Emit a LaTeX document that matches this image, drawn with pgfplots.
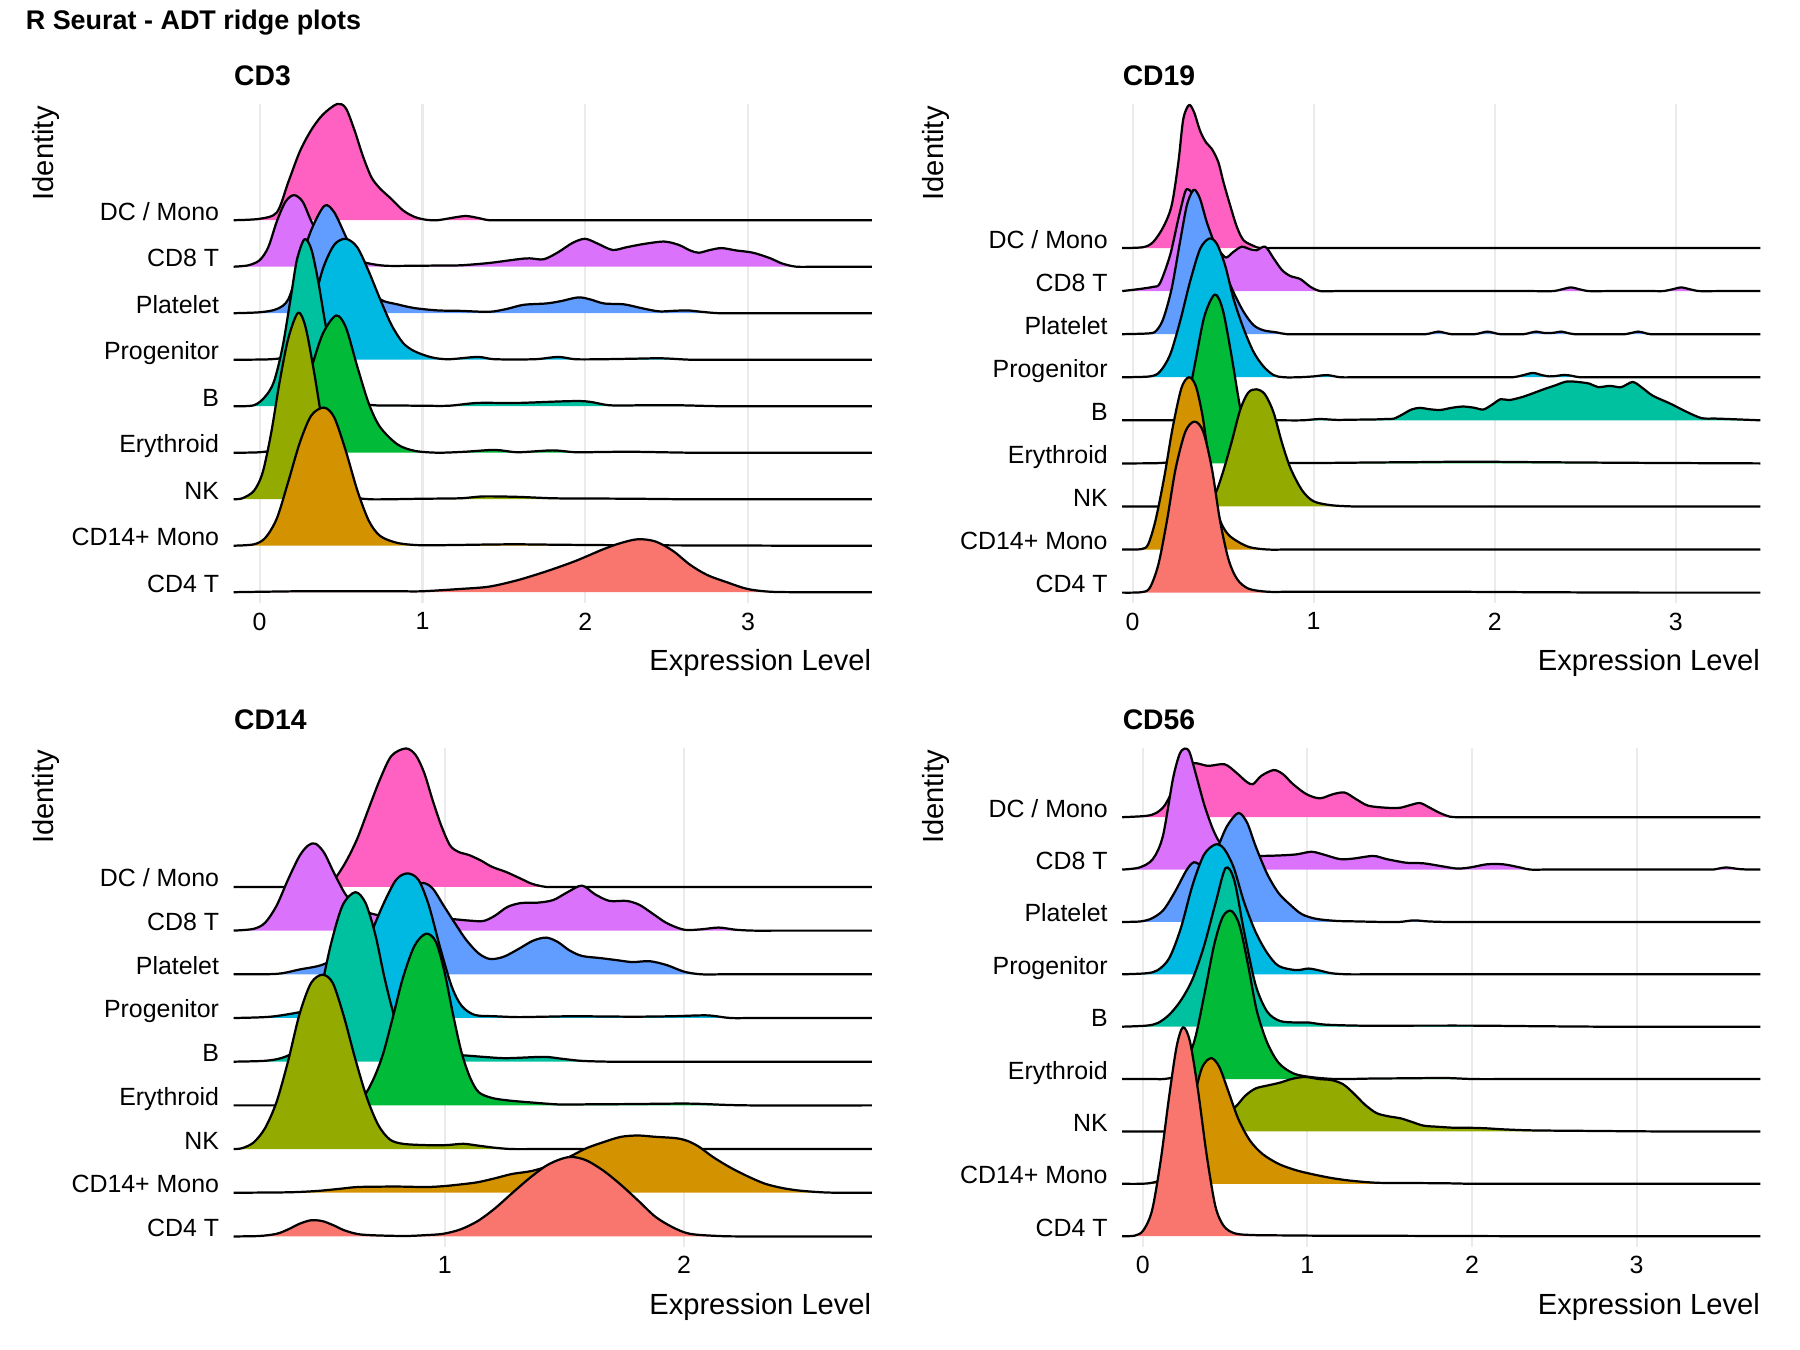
\documentclass[border=0pt]{standalone}
\usepackage{fontspec}
\setmainfont{Liberation Sans}
\usepackage{pgfplots}
\pgfplotsset{compat=1.18}
\definecolor{c1}{HTML}{F8766D}
\definecolor{c2}{HTML}{D39200}
\definecolor{c3}{HTML}{93AA00}
\definecolor{c4}{HTML}{00BA38}
\definecolor{c5}{HTML}{00C19F}
\definecolor{c6}{HTML}{00B9E3}
\definecolor{c7}{HTML}{619CFF}
\definecolor{c8}{HTML}{DB72FB}
\definecolor{c9}{HTML}{FF61C3}
\definecolor{gridgray}{HTML}{EBEBEB}
\newcommand\ticksize{\fontsize{8.97}{10}\selectfont}
\newcommand\titlesize{\fontsize{10.49}{12}\selectfont}
\newcommand\panelsize{\fontsize{10.19}{12}\selectfont\bfseries}
\pgfplotsset{
  ridgepanel/.style={
    scale only axis, width=229.74pt, height=179.67pt, anchor=south west, clip=false,
    axis line style={draw=none}, major tick length=0pt, tick style={draw=none},
    xmajorgrids, major grid style={draw=gridgray, line width=0.75pt},
    ytick={1,2,3,4,5,6,7,8,9},
    yticklabels={CD4 T,CD14+ Mono,NK,Erythroid,B,Progenitor,Platelet,CD8 T,DC / Mono},
    yticklabel style={anchor=base east, inner sep=0pt, xshift=-5.05pt, font=\ticksize, text=black},
    xticklabel style={anchor=north, inner sep=0pt, yshift=-3.27pt, font=\ticksize, text=black},
    /pgf/number format/assume math mode=true,
  },
  ridge/.style={draw=black, line width=0.8pt, line join=round, smooth, tension=0.5, fill=#1},
  lvl/.style={y filter/.expression={y+#1}},
}
\begin{document}
\begin{tikzpicture}
\path (0,0) rectangle (648pt,486pt);
\node[anchor=base west, inner sep=0pt, font=\fontsize{9.7}{12}\selectfont\bfseries] at (9.1pt,475.2pt) {R Seurat - ADT ridge plots};
\node[rotate=90, anchor=east, inner sep=0pt, font=\titlesize] at (16.5pt,447.9pt) {Identity};
\node[rotate=90, anchor=east, inner sep=0pt, font=\titlesize] at (337.0pt,447.9pt) {Identity};
\node[rotate=90, anchor=east, inner sep=0pt, font=\titlesize] at (16.5pt,216.2pt) {Identity};
\node[rotate=90, anchor=east, inner sep=0pt, font=\titlesize] at (337.0pt,216.2pt) {Identity};

% ---------------- CD3 ----------------
\begin{axis}[ridgepanel, at={(84.1pt,268.9pt)}, xmin=-0.16, xmax=3.76, ymin=0.767, ymax=11.5, xtick={0,1,2,3}]
\addplot[ridge=c9, lvl=9] coordinates {(-0.16,0) (0,0.03) (0.106,0.17) (0.176,0.82) (0.247,1.48) (0.317,1.94) (0.388,2.27) (0.476,2.50) (0.529,2.41) (0.582,1.94) (0.634,1.38) (0.687,0.92) (0.74,0.68) (0.811,0.45) (0.881,0.21) (0.952,0.07) (1.022,0.01) (1.093,0) (1.198,0.06) (1.269,0.09) (1.339,0.05) (1.41,0) (1.52,0) (1.7,0) (2.0,0) (2.5,0) (3.1,0) (3.76,0)};
\addplot[ridge=c8, lvl=8] coordinates {(-0.16,0) (-0.07,0.03) (0,0.14) (0.053,0.42) (0.106,0.98) (0.159,1.40) (0.211,1.54) (0.264,1.40) (0.317,0.98) (0.388,0.51) (0.493,0.23) (0.599,0.14) (0.67,0.07) (0.775,0.02) (0.95,0.02) (1.1,0.025) (1.234,0.03) (1.41,0.08) (1.586,0.16) (1.657,0.18) (1.745,0.16) (1.833,0.31) (1.921,0.51) (1.999,0.60) (2.08,0.49) (2.168,0.36) (2.256,0.42) (2.362,0.49) (2.485,0.54) (2.573,0.47) (2.644,0.35) (2.697,0.30) (2.767,0.36) (2.838,0.40) (2.926,0.35) (3.031,0.30) (3.137,0.18) (3.208,0.07) (3.296,0) (3.42,0) (3.58,0) (3.76,0)};
\addplot[ridge=c7, lvl=7] coordinates {(-0.16,0) (0,0.02) (0.106,0.09) (0.176,0.30) (0.247,1.05) (0.317,1.79) (0.398,2.31) (0.458,2.17) (0.529,1.65) (0.599,1.14) (0.67,0.67) (0.74,0.30) (0.846,0.19) (0.952,0.11) (1.093,0.06) (1.234,0.05) (1.41,0.03) (1.516,0.09) (1.621,0.18) (1.762,0.21) (1.851,0.26) (1.956,0.34) (2.027,0.30) (2.115,0.21) (2.238,0.19) (2.344,0.11) (2.45,0.04) (2.538,0.05) (2.626,0.06) (2.714,0.03) (2.82,0) (2.97,0) (3.2,0) (3.45,0) (3.76,0)};
\addplot[ridge=c6, lvl=6] coordinates {(-0.16,0) (0.07,0.01) (0.176,0.08) (0.247,0.36) (0.317,1.02) (0.388,1.95) (0.458,2.47) (0.529,2.60) (0.599,2.42) (0.67,1.90) (0.74,1.30) (0.811,0.74) (0.881,0.36) (0.952,0.18) (1.057,0.05) (1.163,0.01) (1.339,0.06) (1.445,0.01) (1.69,0.01) (1.833,0.06) (1.939,0.01) (2.1,0.01) (2.28,0.02) (2.467,0.03) (2.644,0) (2.82,0) (3.05,0) (3.35,0) (3.76,0)};
\addplot[ridge=c5, lvl=5] coordinates {(-0.16,0) (-0.035,0.02) (0.035,0.21) (0.088,0.53) (0.141,1.28) (0.194,2.40) (0.229,3.15) (0.275,3.59) (0.317,3.38) (0.36,2.68) (0.405,1.75) (0.458,0.91) (0.529,0.30) (0.599,0.08) (0.705,0.02) (0.85,0.015) (1.0,0.01) (1.163,0.01) (1.339,0.07) (1.586,0.07) (1.974,0.11) (2.15,0.02) (2.36,0.02) (2.573,0.02) (2.82,0) (3.05,0) (3.35,0) (3.76,0)};
\addplot[ridge=c4, lvl=4] coordinates {(-0.16,0) (0,0.01) (0.106,0.08) (0.176,0.32) (0.247,0.97) (0.317,1.81) (0.388,2.56) (0.469,2.95) (0.529,2.70) (0.599,1.86) (0.67,1.06) (0.74,0.55) (0.846,0.18) (0.952,0.04) (1.093,0) (1.26,0.02) (1.445,0.06) (1.586,0.01) (1.798,0.05) (1.939,0.01) (2.1,0.015) (2.291,0.02) (2.644,0) (2.95,0) (3.3,0) (3.76,0)};
\addplot[ridge=c3, lvl=3] coordinates {(-0.16,0) (-0.106,0.02) (-0.035,0.18) (0.018,0.57) (0.07,1.41) (0.123,2.53) (0.176,3.46) (0.236,4.01) (0.282,3.70) (0.335,2.72) (0.388,1.59) (0.441,0.76) (0.493,0.29) (0.564,0.06) (0.67,0) (0.82,0) (1.0,0.01) (1.234,0.02) (1.375,0.06) (1.586,0.05) (1.798,0.02) (2.0,0.015) (2.291,0.01) (2.6,0) (3.1,0) (3.76,0)};
\addplot[ridge=c2, lvl=2] coordinates {(-0.16,0) (-0.035,0.03) (0.035,0.17) (0.106,0.59) (0.176,1.38) (0.247,2.22) (0.317,2.80) (0.395,2.97) (0.458,2.76) (0.529,2.04) (0.599,1.20) (0.67,0.54) (0.74,0.21) (0.846,0.06) (0.987,0.01) (1.2,0.015) (1.4,0.025) (1.586,0.03) (1.85,0.02) (2.25,0.01) (2.8,0.005) (3.3,0) (3.76,0)};
\addplot[ridge=c1, lvl=1] coordinates {(-0.16,0) (0.247,0.02) (0.6,0.02) (0.85,0.02) (0.998,0.02) (1.234,0.07) (1.41,0.12) (1.586,0.26) (1.762,0.45) (1.939,0.67) (2.115,0.93) (2.221,1.06) (2.326,1.14) (2.432,1.09) (2.538,0.89) (2.644,0.59) (2.749,0.37) (2.873,0.21) (2.996,0.07) (3.137,0.01) (3.349,0) (3.76,0)};
\node[anchor=base west, inner sep=0pt, font=\panelsize, yshift=6.63pt] at (rel axis cs:0,1) {CD3};
\node[anchor=base east, inner sep=0pt, font=\titlesize, yshift=-24.4pt] at (rel axis cs:1,0) {Expression Level};
\end{axis}

% ---------------- CD19 ----------------
\begin{axis}[ridgepanel, at={(404.0pt,268.9pt)}, xmin=-0.057, xmax=3.467, ymin=0.758, ymax=12.345, xtick={0,1,2,3}]
\addplot[ridge=c9, lvl=9] coordinates {(-0.057,0) (0.059,0.02) (0.114,0.14) (0.17,0.49) (0.216,0.99) (0.253,1.99) (0.28,2.99) (0.312,3.32) (0.34,3.15) (0.373,2.72) (0.406,2.45) (0.438,2.30) (0.474,1.99) (0.502,1.53) (0.539,0.99) (0.576,0.49) (0.613,0.18) (0.668,0.05) (0.705,0) (0.8,0) (0.95,0) (1.2,0) (1.6,0) (2.2,0) (2.8,0) (3.467,0)};
\addplot[ridge=c8, lvl=8] coordinates {(-0.057,0) (0.041,0.05) (0.114,0.10) (0.151,0.18) (0.207,0.83) (0.253,1.68) (0.29,2.30) (0.308,2.36) (0.33,2.25) (0.37,1.75) (0.42,1.2) (0.483,0.91) (0.517,0.78) (0.557,0.91) (0.603,1.03) (0.65,0.97) (0.686,0.95) (0.733,1.03) (0.779,0.76) (0.825,0.49) (0.871,0.35) (0.926,0.28) (0.982,0.10) (1.037,0) (1.12,0) (1.25,0) (1.5,0) (1.8,0) (2.05,0) (2.2,0) (2.32,0) (2.37,0.04) (2.42,0.085) (2.47,0.04) (2.52,0) (2.62,0) (2.75,0) (2.88,0) (2.93,0) (2.98,0.04) (3.03,0.085) (3.08,0.04) (3.13,0) (3.23,0) (3.35,0) (3.467,0)};
\addplot[ridge=c7, lvl=7] coordinates {(-0.057,0) (0.096,0.02) (0.133,0.09) (0.17,0.36) (0.216,1.06) (0.262,2.14) (0.299,2.98) (0.327,3.29) (0.345,3.35) (0.373,3.14) (0.41,2.60) (0.456,2.06) (0.502,1.52) (0.557,0.98) (0.613,0.52) (0.668,0.21) (0.723,0.09) (0.797,0.04) (0.852,0) (0.95,0) (1.12,0) (1.3,0) (1.45,0) (1.56,0) (1.62,0) (1.655,0.03) (1.69,0.06) (1.725,0.03) (1.76,0) (1.82,0) (1.89,0) (1.925,0.03) (1.96,0.06) (1.995,0.03) (2.03,0) (2.1,0) (2.16,0) (2.195,0.03) (2.228,0.06) (2.27,0.03) (2.3,0.025) (2.33,0.035) (2.367,0.06) (2.40,0.03) (2.44,0) (2.52,0) (2.62,0) (2.69,0) (2.72,0) (2.757,0.03) (2.792,0.06) (2.827,0.03) (2.86,0) (2.95,0) (3.1,0) (3.3,0) (3.467,0)};
\addplot[ridge=c6, lvl=6] coordinates {(-0.057,0) (0.096,0.02) (0.151,0.13) (0.207,0.52) (0.262,1.29) (0.317,2.21) (0.373,2.98) (0.424,3.22) (0.465,3.10) (0.511,2.60) (0.557,1.83) (0.613,1.13) (0.668,0.59) (0.723,0.25) (0.779,0.05) (0.834,0) (0.92,0) (1.0,0.02) (1.074,0.05) (1.148,0) (1.25,0) (1.45,0) (1.7,0) (1.9,0) (2.03,0) (2.1,0) (2.15,0.04) (2.21,0.10) (2.26,0.05) (2.3,0.02) (2.34,0.03) (2.385,0.055) (2.43,0.03) (2.47,0) (2.56,0) (2.75,0) (3.05,0) (3.467,0)};
\addplot[ridge=c5, lvl=5] coordinates {(-0.057,0) (0.3,0) (0.6,0) (0.8,0) (0.937,0) (1.032,0.03) (1.127,0.01) (1.22,0.015) (1.33,0.02) (1.4,0.03) (1.444,0.04) (1.492,0.14) (1.54,0.25) (1.587,0.29) (1.635,0.26) (1.698,0.24) (1.762,0.29) (1.825,0.32) (1.889,0.29) (1.937,0.25) (1.984,0.36) (2.032,0.49) (2.079,0.47) (2.143,0.53) (2.206,0.62) (2.27,0.72) (2.333,0.81) (2.397,0.90) (2.46,0.89) (2.524,0.85) (2.571,0.77) (2.635,0.80) (2.698,0.77) (2.762,0.89) (2.816,0.75) (2.873,0.57) (2.968,0.39) (3.063,0.19) (3.143,0.05) (3.222,0.04) (3.349,0.02) (3.467,0)};
\addplot[ridge=c4, lvl=4] coordinates {(-0.057,0) (0.159,0.01) (0.206,0.09) (0.254,0.59) (0.302,1.40) (0.349,2.41) (0.397,3.42) (0.454,3.92) (0.498,3.57) (0.546,2.51) (0.594,1.30) (0.641,0.49) (0.698,0.14) (0.778,0.02) (0.88,0.01) (1.05,0.01) (1.3,0.02) (1.6,0.03) (1.857,0.04) (2.175,0.03) (2.5,0.02) (2.9,0.01) (3.467,0)};
\addplot[ridge=c3, lvl=3] coordinates {(-0.057,0) (0.15,0) (0.28,0) (0.35,0) (0.397,0.01) (0.454,0.27) (0.498,0.78) (0.546,1.48) (0.594,2.24) (0.638,2.64) (0.683,2.72) (0.73,2.61) (0.778,2.19) (0.825,1.48) (0.873,0.88) (0.937,0.37) (1.0,0.12) (1.095,0.03) (1.222,0) (1.37,0) (1.6,0) (2.0,0) (2.6,0) (3.467,0)};
\addplot[ridge=c2, lvl=2] coordinates {(-0.057,0) (0.048,0.01) (0.086,0.12) (0.127,0.68) (0.175,1.68) (0.222,2.84) (0.27,3.75) (0.311,4.0) (0.349,3.80) (0.387,3.09) (0.429,1.88) (0.476,0.78) (0.524,0.37) (0.587,0.17) (0.651,0.05) (0.746,0) (0.86,0) (1.05,0) (1.35,0) (1.8,0) (2.5,0) (3.467,0)};
\addplot[ridge=c1, lvl=1] coordinates {(-0.057,0) (0.048,0.01) (0.095,0.11) (0.143,0.66) (0.19,1.67) (0.238,2.88) (0.292,3.74) (0.343,3.97) (0.39,3.74) (0.438,2.88) (0.483,1.67) (0.53,0.77) (0.578,0.31) (0.641,0.09) (0.746,0.02) (0.87,0.02) (1.05,0.02) (1.35,0.02) (1.73,0.02) (2.2,0.01) (2.8,0) (3.467,0)};
\node[anchor=base west, inner sep=0pt, font=\panelsize, yshift=6.63pt] at (rel axis cs:0,1) {CD19};
\node[anchor=base east, inner sep=0pt, font=\titlesize, yshift=-24.4pt] at (rel axis cs:1,0) {Expression Level};
\end{axis}

% ---------------- CD14 ----------------
\begin{axis}[ridgepanel, at={(84.1pt,37.2pt)}, xmin=0.1175, xmax=2.784, ymin=0.766, ymax=12.19, xtick={1,2}]
\addplot[ridge=c9, lvl=9] coordinates {(0.1175,0) (0.25,0) (0.35,0) (0.41,0) (0.441,0) (0.489,0.02) (0.537,0.17) (0.585,0.56) (0.633,1.09) (0.681,1.78) (0.729,2.46) (0.777,3.00) (0.837,3.17) (0.878,3.02) (0.914,2.61) (0.95,1.97) (0.986,1.39) (1.022,0.95) (1.058,0.80) (1.101,0.73) (1.149,0.61) (1.197,0.46) (1.257,0.34) (1.317,0.19) (1.365,0.07) (1.424,0) (1.5,0) (1.65,0) (1.9,0) (2.3,0) (2.784,0)};
\addplot[ridge=c8, lvl=8] coordinates {(0.1175,0) (0.201,0.04) (0.249,0.18) (0.297,0.57) (0.345,1.17) (0.393,1.71) (0.429,1.95) (0.46,1.99) (0.496,1.78) (0.537,1.32) (0.585,0.83) (0.633,0.54) (0.693,0.39) (0.777,0.31) (0.873,0.34) (0.969,0.29) (1.041,0.26) (1.101,0.23) (1.161,0.22) (1.209,0.34) (1.261,0.54) (1.317,0.63) (1.388,0.64) (1.453,0.70) (1.513,0.88) (1.573,1.03) (1.628,0.83) (1.688,0.68) (1.76,0.68) (1.813,0.59) (1.868,0.39) (1.928,0.17) (2.0,0.02) (2.072,0.03) (2.144,0.07) (2.216,0.02) (2.288,0) (2.4,0) (2.57,0) (2.784,0)};
\addplot[ridge=c7, lvl=7] coordinates {(0.1175,0) (0.297,0.01) (0.393,0.11) (0.489,0.22) (0.585,0.50) (0.681,0.99) (0.777,1.57) (0.849,1.96) (0.909,2.09) (0.95,1.96) (0.993,1.59) (1.041,1.18) (1.089,0.79) (1.141,0.48) (1.189,0.35) (1.245,0.40) (1.305,0.57) (1.369,0.77) (1.424,0.84) (1.472,0.74) (1.52,0.55) (1.573,0.42) (1.652,0.37) (1.724,0.32) (1.784,0.28) (1.856,0.30) (1.928,0.21) (2.0,0.06) (2.072,0) (2.17,0) (2.33,0) (2.55,0) (2.784,0)};
\addplot[ridge=c6, lvl=6] coordinates {(0.1175,0) (0.273,0.03) (0.417,0.16) (0.513,0.33) (0.609,0.92) (0.681,1.80) (0.741,2.58) (0.796,3.16) (0.844,3.31) (0.89,3.16) (0.933,2.58) (0.981,1.60) (1.029,0.72) (1.07,0.28) (1.125,0.07) (1.209,0.04) (1.305,0.02) (1.42,0.03) (1.544,0.04) (1.784,0.03) (1.95,0.04) (2.096,0.06) (2.192,0) (2.3,0) (2.5,0) (2.784,0)};
\addplot[ridge=c5, lvl=5] coordinates {(0.1175,0) (0.249,0.02) (0.321,0.09) (0.381,0.26) (0.429,0.65) (0.477,1.53) (0.525,2.71) (0.573,3.58) (0.626,3.88) (0.669,3.63) (0.71,2.90) (0.748,1.92) (0.789,1.04) (0.837,0.41) (0.885,0.21) (0.969,0.17) (1.065,0.15) (1.161,0.11) (1.257,0.08) (1.412,0.11) (1.484,0.07) (1.568,0.02) (1.688,0) (1.85,0) (2.1,0) (2.45,0) (2.784,0)};
\addplot[ridge=c4, lvl=4] coordinates {(0.1175,0) (0.3,0) (0.45,0) (0.53,0) (0.585,0.01) (0.657,0.19) (0.7,0.58) (0.741,1.16) (0.784,2.04) (0.825,2.92) (0.873,3.65) (0.921,3.93) (0.962,3.75) (0.998,3.07) (1.034,2.09) (1.07,1.21) (1.106,0.63) (1.142,0.30) (1.197,0.17) (1.269,0.11) (1.376,0.06) (1.484,0.02) (1.62,0.025) (1.784,0.03) (2.024,0.04) (2.264,0) (2.784,0)};
\addplot[ridge=c3, lvl=3] coordinates {(0.1175,0) (0.153,0.02) (0.201,0.15) (0.249,0.48) (0.297,1.08) (0.345,2.01) (0.393,3.09) (0.441,3.80) (0.489,3.99) (0.532,3.80) (0.578,3.04) (0.626,2.06) (0.674,1.18) (0.722,0.55) (0.77,0.22) (0.825,0.12) (0.921,0.09) (1.005,0.09) (1.077,0.12) (1.137,0.08) (1.209,0.03) (1.281,0) (1.4,0) (1.6,0) (1.9,0) (2.3,0) (2.784,0)};
\addplot[ridge=c2, lvl=2] coordinates {(0.1175,0) (0.345,0.01) (0.465,0.04) (0.561,0.09) (0.633,0.13) (0.741,0.14) (0.825,0.14) (0.921,0.13) (0.993,0.15) (1.065,0.19) (1.137,0.24) (1.209,0.33) (1.281,0.43) (1.365,0.50) (1.448,0.64) (1.52,0.82) (1.592,1.02) (1.664,1.16) (1.736,1.28) (1.808,1.31) (1.88,1.28) (1.964,1.25) (2.012,1.19) (2.06,1.06) (2.12,0.82) (2.192,0.58) (2.264,0.38) (2.336,0.21) (2.408,0.11) (2.48,0.05) (2.576,0.01) (2.648,0) (2.784,0)};
\addplot[ridge=c1, lvl=1] coordinates {(0.1175,0) (0.225,0.01) (0.297,0.06) (0.345,0.16) (0.393,0.29) (0.441,0.37) (0.489,0.35) (0.537,0.25) (0.585,0.13) (0.657,0.04) (0.825,0.01) (0.921,0.03) (0.993,0.06) (1.065,0.16) (1.137,0.35) (1.209,0.64) (1.281,0.99) (1.353,1.33) (1.424,1.62) (1.484,1.77) (1.532,1.82) (1.592,1.74) (1.664,1.50) (1.736,1.18) (1.808,0.82) (1.88,0.45) (1.952,0.21) (2.024,0.06) (2.144,0.01) (2.264,0) (2.784,0)};
\node[anchor=base west, inner sep=0pt, font=\panelsize, yshift=6.63pt] at (rel axis cs:0,1) {CD14};
\node[anchor=base east, inner sep=0pt, font=\titlesize, yshift=-24.4pt] at (rel axis cs:1,0) {Expression Level};
\end{axis}

% ---------------- CD56 ----------------
\begin{axis}[ridgepanel, at={(404.0pt,37.2pt)}, xmin=-0.125, xmax=3.752, ymin=0.80, ymax=10.33, xtick={0,1,2,3}]
\addplot[ridge=c9, lvl=9] coordinates {(-0.125,0) (0.02,0.025) (0.081,0.08) (0.132,0.22) (0.18,0.5) (0.23,0.82) (0.304,1.03) (0.396,0.98) (0.497,1.01) (0.568,0.85) (0.629,0.68) (0.669,0.63) (0.72,0.79) (0.795,0.90) (0.852,0.82) (0.913,0.63) (0.994,0.44) (1.075,0.36) (1.156,0.44) (1.227,0.47) (1.298,0.34) (1.369,0.22) (1.481,0.18) (1.562,0.18) (1.623,0.23) (1.684,0.27) (1.744,0.18) (1.805,0.08) (1.866,0.01) (1.927,0) (2.05,0) (2.3,0) (2.7,0) (3.2,0) (3.752,0)};
\addplot[ridge=c8, lvl=8] coordinates {(-0.125,0) (-0.02,0.04) (0.061,0.20) (0.122,0.64) (0.183,1.73) (0.223,2.2) (0.254,2.31) (0.284,2.24) (0.325,1.79) (0.375,1.22) (0.426,0.77) (0.467,0.52) (0.527,0.32) (0.6,0.27) (0.71,0.26) (0.832,0.27) (0.933,0.29) (1.024,0.34) (1.095,0.29) (1.197,0.20) (1.278,0.21) (1.4,0.26) (1.481,0.20) (1.602,0.13) (1.704,0.12) (1.805,0.07) (1.907,0.02) (1.988,0.04) (2.089,0.10) (2.191,0.10) (2.292,0.04) (2.353,0) (2.45,0) (2.6,0) (2.85,0) (3.1,0) (3.3,0) (3.42,0) (3.465,0) (3.542,0.04) (3.622,0.01) (3.69,0) (3.752,0)};
\addplot[ridge=c7, lvl=7] coordinates {(-0.125,0) (-0.014,0.01) (0.056,0.07) (0.126,0.23) (0.196,0.58) (0.266,0.99) (0.311,1.14) (0.371,1.08) (0.44,1.33) (0.51,1.82) (0.58,2.08) (0.633,1.90) (0.685,1.45) (0.755,0.92) (0.825,0.55) (0.895,0.33) (0.965,0.15) (1.052,0.06) (1.175,0.02) (1.3,0.01) (1.45,0) (1.559,0) (1.647,0.03) (1.734,0.01) (1.839,0) (2.0,0) (2.3,0) (2.8,0) (3.3,0) (3.752,0)};
\addplot[ridge=c6, lvl=6] coordinates {(-0.125,0) (0.021,0.02) (0.091,0.08) (0.161,0.31) (0.231,0.88) (0.301,1.69) (0.371,2.28) (0.441,2.48) (0.493,2.40) (0.552,2.04) (0.615,1.38) (0.685,0.81) (0.755,0.41) (0.825,0.16) (0.93,0.08) (1.007,0.11) (1.077,0.07) (1.147,0.02) (1.245,0) (1.38,0) (1.6,0) (2.0,0) (2.6,0) (3.2,0) (3.752,0)};
\addplot[ridge=c5, lvl=5] coordinates {(-0.125,0) (0.021,0.02) (0.091,0.07) (0.161,0.23) (0.231,0.50) (0.301,0.90) (0.371,1.53) (0.441,2.35) (0.503,3.03) (0.556,2.79) (0.615,1.82) (0.685,0.80) (0.755,0.29) (0.832,0.11) (0.93,0.08) (1.007,0.08) (1.105,0.04) (1.315,0.02) (1.6,0.02) (2.014,0.02) (2.364,0.01) (2.8,0) (3.25,0) (3.752,0)};
\addplot[ridge=c4, lvl=4] coordinates {(-0.125,0) (0.0,0) (0.08,0) (0.126,0) (0.196,0.05) (0.255,0.25) (0.318,0.78) (0.378,1.68) (0.434,2.57) (0.486,3.10) (0.538,3.21) (0.587,2.94) (0.64,2.17) (0.692,1.31) (0.755,0.70) (0.825,0.31) (0.913,0.11) (1.017,0.04) (1.175,0) (1.4,0.01) (1.62,0.015) (1.839,0.02) (2.014,0) (2.25,0) (2.6,0) (3.1,0) (3.752,0)};
\addplot[ridge=c3, lvl=3] coordinates {(-0.125,0) (0.161,0) (0.266,0.02) (0.371,0.11) (0.476,0.27) (0.563,0.47) (0.622,0.68) (0.685,0.82) (0.762,0.88) (0.832,0.93) (0.902,1.00) (0.983,1.04) (1.07,1.00) (1.147,0.98) (1.217,0.90) (1.28,0.73) (1.35,0.51) (1.42,0.35) (1.49,0.29) (1.566,0.25) (1.636,0.18) (1.706,0.11) (1.787,0.09) (1.892,0.07) (1.979,0.07) (2.084,0.06) (2.189,0.04) (2.364,0.02) (2.713,0.01) (3.15,0) (3.752,0)};
\addplot[ridge=c2, lvl=2] coordinates {(-0.125,0) (-0.014,0) (0.056,0.02) (0.126,0.10) (0.196,0.38) (0.255,0.91) (0.308,1.60) (0.36,2.22) (0.416,2.40) (0.465,2.23) (0.517,1.79) (0.58,1.24) (0.65,0.83) (0.727,0.57) (0.825,0.38) (0.93,0.26) (1.035,0.18) (1.147,0.11) (1.262,0.06) (1.42,0.02) (1.62,0.015) (1.839,0.01) (2.014,0) (2.3,0) (2.75,0) (3.25,0) (3.752,0)};
\addplot[ridge=c1, lvl=1] coordinates {(-0.125,0) (-0.049,0.01) (0.003,0.11) (0.056,0.49) (0.108,1.43) (0.161,2.69) (0.206,3.63) (0.245,3.99) (0.287,3.71) (0.336,2.77) (0.388,1.55) (0.441,0.57) (0.493,0.19) (0.563,0.05) (0.685,0.02) (0.85,0.015) (1.05,0.01) (1.315,0.01) (1.7,0.005) (2.3,0) (3.0,0) (3.752,0)};
\node[anchor=base west, inner sep=0pt, font=\panelsize, yshift=6.63pt] at (rel axis cs:0,1) {CD56};
\node[anchor=base east, inner sep=0pt, font=\titlesize, yshift=-24.4pt] at (rel axis cs:1,0) {Expression Level};
\end{axis}
\path (0,0) rectangle (648pt,486pt);
\end{tikzpicture}
\end{document}
